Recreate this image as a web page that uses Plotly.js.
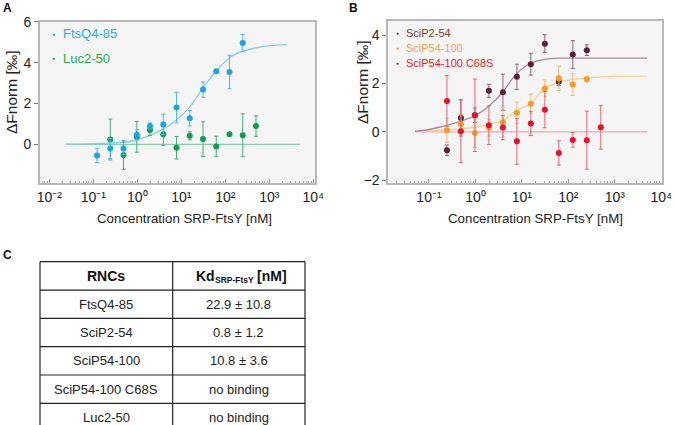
<!DOCTYPE html>
<html><head><meta charset="utf-8">
<script src="https://cdn.plot.ly/plotly-3.0.1.min.js"></script>
<style>html,body{margin:0;padding:0;background:#fff;}#chart{width:675px;height:425px;}</style>
</head><body><div id="chart"></div>
<script>
// ---------- Panel A data ----------
const concFtsQ = [0.122,0.244,0.488,0.977,1.95,3.91,7.81,15.6,31.25,62.5,125,250];
const fnormFtsQ = [-0.54,-0.2,-0.2,0.47,0.9,0.98,1.8,1.28,2.68,3.58,3.54,4.96];
const errFtsQ = [0.35,0.5,0.3,0.25,0.15,0.5,0.75,0.38,0.38,0.05,0.82,0.42];
const concLuc = [0.244,0.488,0.977,1.95,3.91,7.81,15.6,31.25,62.5,125,250,500];
const fnormLuc = [0.24,-0.52,0.37,0.7,0.5,-0.16,0.42,0.26,-0.1,0.5,0.45,0.9];
const errLuc = [1.0,0.7,0.75,0.27,0.55,0.55,0.2,0.85,0.5,0.05,1.05,0.5];
// fitted curves
const fitFtsQx = [0.024,0.14,0.81,4.7,14.5,28.8,59,151,513,2500];
const fitFtsQy = [0.01,0.05,0.18,0.86,1.75,2.65,3.54,4.36,4.73,4.88];
const fitLucx = [0.024,5000];
const fitLucy = [0,0];

// ---------- Panel B data ----------
const concB = [0.244,0.488,0.977,1.95,3.91,7.81,15.6,31.25,62.5,125,250];
const fnormSciP2 = [-0.76,0.58,0.69,1.7,1.64,2.28,2.8,3.65,2.07,3.2,3.38];
const errSciP2 = [0.22,0.75,0.3,0.27,0.75,0.52,0.45,0.37,0.15,0.58,0.22];
const fnormSciP54 = [0.07,0.32,-0.04,0.18,0.4,0.79,1.17,1.8,2.22,1.96,2.18];
const errSciP54 = [0.5,0.4,0.6,0.35,0.6,0.45,0.4,0.35,0.5,0.45,0.1];
const concC68S = [0.244,0.488,0.977,1.95,3.91,7.81,15.6,31.25,62.5,125,250,500];
const fnormC68S = [1.28,0.03,0.69,0.28,0.18,-0.39,0.35,0.92,-0.87,-0.33,-0.34,0.19];
const errC68S = [1.05,1.3,1.5,0.8,0.5,0.95,0.5,0.75,0.5,0.3,1.2,0.9];
const fitSciP2x = [0.05,0.1,0.316,1,2.04,3.9,7.6,15.8,40,100,1000,5000];
const fitSciP2y = [0.03,0.1,0.33,0.68,1.1,1.65,2.4,2.85,3.03,3.05,3.05,3.05];
const fitSciP54x = [0.05,0.24,1,3.9,7.6,15.8,31,65,126,316,1000,5000];
const fitSciP54y = [0.02,0.08,0.2,0.48,0.87,1.2,1.79,2.07,2.17,2.25,2.3,2.31];
const fitC68Sx = [0.05,5000];
const fitC68Sy = [0,0];

// ---------- axis ticks ----------
const xTickVals = [0.01,0.1,1,10,100,1000,10000];
const xTickText = ['10⁻²','10⁻¹','10⁰','10¹','10²','10³','10⁴'];
const yTickA = [0,2,4,6];
const yTickB = [-2,0,2,4];
const xTitle = 'Concentration SRP-FtsY [nM]';
const yTitle = 'ΔFnorm [‰]';

// ---------- table C ----------
const headerRNCs = 'RNCs';
const headerKd = ['Kd', 'SRP-FtsY', '[nM]'];   // Kd with subscript, then unit
const tableRNCs = ['FtsQ4-85','SciP2-54','SciP54-100','SciP54-100 C68S','Luc2-50'];
const tableKd = ['22.9 ± 10.8','0.8 ± 1.2','10.8 ± 3.6','no binding','no binding'];

const W = 675, H = 425;
const px = x => x / W, py = y => 1 - y / H;
const FONT = 'Liberation Sans, Arial, sans-serif';

function pts(x, y, err, xa, ya, mcol, ecol, name) {
  return {x, y, xaxis: xa, yaxis: ya, type: 'scatter', mode: 'markers', name,
    marker: {color: mcol, size: 6},
    error_y: {type: 'data', array: err, visible: true, color: ecol, thickness: 1, width: 2},
    showlegend: false};
}
function fit(x, y, xa, ya, col) {
  return {x, y, xaxis: xa, yaxis: ya, type: 'scatter', mode: 'lines',
    line: {color: col, width: 1.3, shape: 'spline', smoothing: 1}, showlegend: false, hoverinfo: 'skip'};
}

const data = [
  fit(fitLucx, fitLucy, 'x', 'y', '#86cdb0'),
  fit(fitFtsQx, fitFtsQy, 'x', 'y', '#83d0e2'),
  pts(concLuc, fnormLuc, errLuc, 'x', 'y', '#119b52', '#4caa7e', 'Luc2-50'),
  pts(concFtsQ, fnormFtsQ, errFtsQ, 'x', 'y', '#1ca4e0', '#4db8dc', 'FtsQ4-85'),
  fit(fitC68Sx, fitC68Sy, 'x2', 'y2', '#f3a3ad'),
  fit(fitSciP54x, fitSciP54y, 'x2', 'y2', '#f3cf94'),
  fit(fitSciP2x, fitSciP2y, 'x2', 'y2', '#a88896'),
  pts(concB, fnormSciP2, errSciP2, 'x2', 'y2', '#5c1f38', '#8c6578', 'SciP2-54'),
  pts(concB, fnormSciP54, errSciP54, 'x2', 'y2', '#f59c22', '#f1b878', 'SciP54-100'),
  pts(concC68S, fnormC68S, errC68S, 'x2', 'y2', '#e8112d', '#e06676', 'SciP54-100 C68S')
];

function xAxis(domain, range, anchor) {
  return {type: 'log', domain, range, anchor, tickvals: xTickVals, ticktext: xTickText,
    ticks: 'inside', ticklen: 4, tickcolor: '#999', tickwidth: 1,
    minor: {ticks: 'inside', ticklen: 2, tickcolor: '#aaa', dtick: 'D1'},
    showline: true, linecolor: '#b8b8b8', linewidth: 2, mirror: true,
    showgrid: false, zeroline: false, tickfont: {size: 14, color: '#222'}};
}
function yAxis(domain, range, anchor, tv) {
  return {domain, range, anchor, tickvals: tv, ticks: 'outside', ticklen: 4, tickcolor: '#777',
    showline: true, linecolor: '#b8b8b8', linewidth: 2, mirror: true,
    showgrid: false, zeroline: false, tickfont: {size: 14, color: '#222'}};
}

const annotations = [];
function label(text, x, y, size, color, anchor, angle) {
  annotations.push({text, x: px(x), y: py(y), xref: 'paper', yref: 'paper',
    xanchor: anchor || 'center', yanchor: 'middle', showarrow: false, textangle: angle || 0,
    font: {family: FONT, size, color}});
}
// panel letters
label('<b>A</b>', 7, 8, 12, '#111');
label('<b>B</b>', 353, 8, 12, '#111');
label('<b>C</b>', 7, 255, 12, '#111');
// axis titles
label(xTitle, 184.5, 218, 13.3, '#222');
label(xTitle, 535.5, 218, 13.3, '#222');
label(yTitle, 12, 92, 15.5, '#222', 'center', -90);
label(yTitle, 363, 82, 15.5, '#222', 'center', -90);
// legends
const legA = [['FtsQ4-85', '#1ca4e0', '#29aee6'], ['Luc2-50', '#119b52', '#22b04b']];
legA.forEach((d, i) => {
  const y = 34 + i * 24;
  label('●', 53, y, 5, d[1]);
  label(d[0], 61, y, 13, d[2], 'left');
});
const legB = [['SciP2-54', '#7a3a1c', '#7b3f1d'], ['SciP54-100', '#f59c22', '#f7a24a'], ['SciP54-100 C68S', '#e8112d', '#ee1c25']];
legB.forEach((d, i) => {
  const y = 33 + i * 15;
  label('●', 397, y, 5, d[1]);
  label(d[0], 404, y, 11, d[2], 'left');
});

// table
const tL = 40, tR = 305, tM = 172.7, tTop = 261.7, rowH = 28.33;
const nRows = tableRNCs.length + 1;
const shapes = [];
const line = (x0, y0, x1, y1) => shapes.push({type: 'line', xref: 'paper', yref: 'paper',
  x0: px(x0), y0: py(y0), x1: px(x1), y1: py(y1), line: {color: '#222', width: 1.2}});
for (let r = 0; r <= nRows; r++) line(tL, tTop + r * rowH, tR, tTop + r * rowH);
line(tL, tTop, tL, tTop + nRows * rowH);
line(tM, tTop, tM, tTop + nRows * rowH);
line(tR, tTop, tR, tTop + nRows * rowH);
const c1 = (tL + tM) / 2, c2 = (tM + tR) / 2;
const hy = tTop + rowH / 2;
label('<b>' + headerRNCs + '</b>', c1, hy, 14, '#111');
label('<b>' + headerKd[0] + '</b>', 194, hy, 14, '#111', 'left');
label('<b>' + headerKd[1] + '</b>', 212.5, hy + 4, 8.5, '#111', 'left');
label('<b>' + headerKd[2] + '</b>', 255, hy, 14, '#111', 'left');
tableRNCs.forEach((t, i) => {
  const y = tTop + (i + 1.5) * rowH;
  label(t, c1, y, 13, '#222');
  label(tableKd[i], c2, y, 13, '#222');
});

const layout = {
  width: W, height: H, margin: {l: 0, r: 0, t: 0, b: 0},
  paper_bgcolor: '#fff', plot_bgcolor: '#f5f5f5',
  font: {family: FONT, color: '#222'},
  showlegend: false,
  xaxis: xAxis([px(40), px(315)], [-2.21, 4.04], 'y'),
  yaxis: yAxis([py(183.3), py(21.7)], [-1.9, 6.0], 'x', yTickA),
  xaxis2: xAxis([px(388.3), px(661.7)], [-1.875, 4.01], 'y2'),
  yaxis2: yAxis([py(182.7), py(20.7)], [-2.1, 4.6], 'x2', yTickB),
  annotations, shapes
};
Plotly.newPlot('chart', data, layout, {displayModeBar: false});
</script></body></html>
